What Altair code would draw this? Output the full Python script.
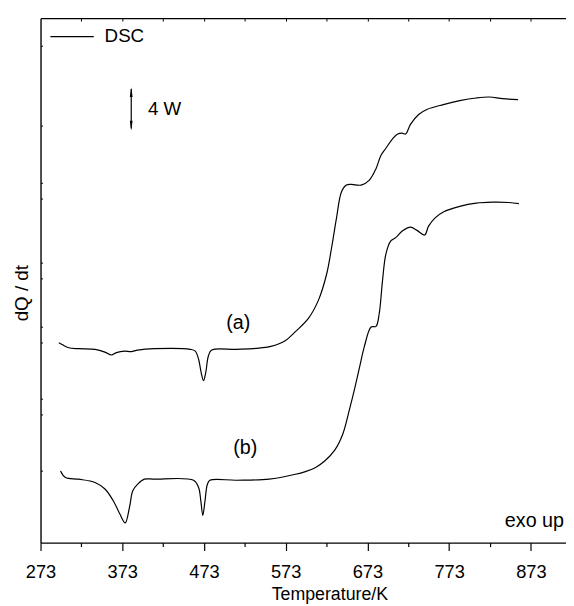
import altair as alt
import pandas as pd

# ---- data (Temperature in K, signal in W) ----
T_a = [295.4, 299.4, 307.5, 319.6, 339.7, 351.8, 359.7, 365.8, 375.9, 383.9, 391.9, 412.1,
       456.2, 462.3, 466.4, 469.5, 472.4, 475.2, 478.4, 482.4, 512.6, 536.7, 554.8, 572.9,
       584.9, 601.0, 613.1, 623.2, 629.2, 635.2, 641.3, 647.3, 653.3, 665.4, 675.4, 683.5,
       689.5, 695.6, 703.5, 709.6, 715.6, 719.7, 725.7, 735.7, 745.7, 765.9, 786.0, 806.1,
       822.2, 838.3, 857.2]
Q_a = [18.43, 18.27, 17.97, 17.88, 17.82, 17.57, 17.30, 17.52, 17.66, 17.61, 17.75, 17.88,
       17.82, 17.66, 16.91, 15.70, 14.94, 15.70, 17.21, 17.75, 17.82, 17.91, 18.09, 18.64,
       19.45, 20.70, 22.36, 24.79, 27.21, 29.94, 32.36, 32.97, 33.03, 32.97, 33.43, 34.48,
       35.70, 36.36, 37.21, 37.66, 37.75, 37.68, 38.57, 39.48, 39.94, 40.39, 40.75, 41.00,
       41.09, 40.94, 40.85]

T_b = [297.5, 303.5, 319.6, 339.7, 351.8, 361.8, 369.9, 376.6, 381.9, 385.9, 391.9, 400.0,
       412.1, 460.3, 466.4, 469.1, 471.6, 474.3, 477.2, 480.4, 512.6, 552.7, 584.9, 597.0,
       609.1, 621.1, 633.2, 642.8, 651.3, 657.3, 663.3, 669.4, 677.5, 683.5, 687.5, 691.5,
       695.6, 701.6, 707.6, 715.6, 725.7, 733.7, 743.0, 747.8, 755.9, 765.9, 786.0, 806.1,
       826.2, 846.3, 858.4]
Q_b = [6.61, 6.00, 5.85, 5.55, 4.94, 3.88, 2.66, 1.82, 3.27, 4.79, 5.39, 5.85,
       5.85, 5.75, 5.09, 3.88, 2.52, 3.88, 5.39, 5.75, 5.75, 5.85, 6.30, 6.55,
       6.91, 7.55, 8.55, 10.00, 12.36, 14.18, 16.15, 18.12, 19.88, 19.94, 21.15, 24.18,
       26.61, 27.82, 28.12, 28.73, 29.09, 28.79, 28.36, 29.18, 29.94, 30.48, 31.00, 31.30,
       31.39, 31.36, 31.25]

x_ticks = [273, 323, 373, 423, 473, 523, 573, 623, 673, 723, 773, 823, 873]
top_ticks = [323, 373, 423, 473, 523, 573, 623, 673, 723, 773, 823, 873]
y_ticks = [45.85, 38.45, 33.18, 31.73, 25.82, 24.36, 19.91, 18.45, 13.27, 11.82, 6.64]

curve_labels = ["(a)", "(b)"]
curve_label_T = [515.0, 523.5]
curve_label_Q = [20.27, 8.73]

FONT = "Liberation Sans"
FS = 19

df = pd.DataFrame({
    "T": T_a + T_b,
    "Q": Q_a + Q_b,
    "curve": ["a"] * len(T_a) + ["b"] * len(T_b),
})

xscale = alt.Scale(domain=[273, 916], nice=False, zero=False)
yscale = alt.Scale(domain=[0, 48.36], nice=False, zero=False)

lines = alt.Chart(df).mark_line(color="black", strokeWidth=1.2, interpolate="catmull-rom").encode(
    x=alt.X("T:Q", scale=xscale, axis=alt.Axis(
        orient="bottom", values=x_ticks,
        tickSize={"condition": {"test": "datum.value % 100 == 73", "value": 8}, "value": 4},
        labelExpr="datum.value % 100 == 73 ? datum.label : ''",
        labelFont=FONT, labelFontSize=18.5, labelColor="black", labelPadding=12,
        labelFlush=False, labelOverlap=False,
        grid=False, domainColor="black", domainWidth=1.4, tickColor="black", tickWidth=1.2,
        title="Temperature/K", titleFont=FONT, titleFontSize=18, titleFontWeight="normal",
        titleColor="black", titleX=293, titleY=57.5, titleBaseline="alphabetic", titleAnchor="start",
        titleAlign="center")),
    y=alt.Y("Q:Q", scale=yscale, axis=alt.Axis(
        orient="left", ticks=False, labels=False, grid=False, title=None,
        domainColor="black", domainWidth=1.4)),
    detail="curve:N",
)

frame = alt.Chart(df).mark_point(opacity=0).encode(
    x=alt.X("T:Q", scale=xscale, axis=alt.Axis(
        orient="top", ticks=False, labels=False, grid=False, title=None,
        domainColor="black", domainWidth=1.4)),
    y=alt.Y("Q:Q", scale=yscale, axis=alt.Axis(
        orient="left", offset=-2, domain=False, values=y_ticks, tickSize=2,
        tickColor="black", tickWidth=1, labels=False, grid=False, title=None)),
)

inner_top = alt.Chart(df).mark_point(opacity=0).encode(
    x=alt.X("T:Q", scale=xscale, axis=alt.Axis(
        orient="top", offset=-3, domain=False, values=top_ticks, tickSize=3,
        tickColor="black", tickWidth=1, labels=False, grid=False, title=None)),
    y=alt.Y("Q:Q", scale=yscale, axis=None),
)

lab_df = pd.DataFrame({"T": curve_label_T, "Q": curve_label_Q, "txt": curve_labels})
curve_text = alt.Chart(lab_df).mark_text(font=FONT, fontSize=20, color="black",
                                         align="center", baseline="middle").encode(
    x=alt.X("T:Q", scale=xscale, axis=None),
    y=alt.Y("Q:Q", scale=yscale, axis=None),
    text="txt:N",
)

one = pd.DataFrame({"k": [0]})

legend_line = alt.Chart(one).mark_rule(color="black", strokeWidth=1.2).encode(
    x=alt.value(10), x2=alt.value(54), y=alt.value(18.7))
legend_text = alt.Chart(one).mark_text(font=FONT, fontSize=FS, color="black",
                                       align="left", baseline="middle", text="DSC").encode(
    x=alt.value(65), y=alt.value(18.5))

arrow_line = alt.Chart(one).mark_rule(color="black", strokeWidth=1.2).encode(
    x=alt.value(92), y=alt.value(72), y2=alt.value(112))
arrow_up = alt.Chart(one).mark_point(shape="M0,-1L0.28,1L-0.28,1Z", filled=True, size=100,
                                     color="black", opacity=1, strokeWidth=0).encode(
    x=alt.value(92), y=alt.value(75))
arrow_down = alt.Chart(one).mark_point(shape="M0,1L0.28,-1L-0.28,-1Z", filled=True, size=100,
                                       color="black", opacity=1, strokeWidth=0).encode(
    x=alt.value(92), y=alt.value(109))
scale_text = alt.Chart(one).mark_text(font=FONT, fontSize=FS, color="black",
                                      align="left", baseline="middle", text="4 W").encode(
    x=alt.value(109), y=alt.value(92))

exo_text = alt.Chart(one).mark_text(font=FONT, fontSize=20, color="black",
                                    align="right", baseline="alphabetic", text="exo up").encode(
    x=alt.value(531), y=alt.value(516))

ytitle = alt.Chart(one).mark_text(font=FONT, fontSize=FS, color="black", angle=270,
                                  align="center", baseline="middle", text="dQ / dt").encode(
    x=alt.value(-19), y=alt.value(279))

chart = alt.layer(
    lines, frame, inner_top, curve_text, legend_line, legend_text,
    arrow_line, arrow_up, arrow_down, scale_text, exo_text, ytitle
).resolve_axis(x="independent", y="independent").properties(
    width=533, height=532,
    autosize=alt.AutoSizeParams(type="none"),
    padding={"left": 33, "top": 6, "right": 0, "bottom": 60},
).configure_view(stroke=None)

chart.save("out.html", embed_options={"renderer": "svg", "actions": False})
